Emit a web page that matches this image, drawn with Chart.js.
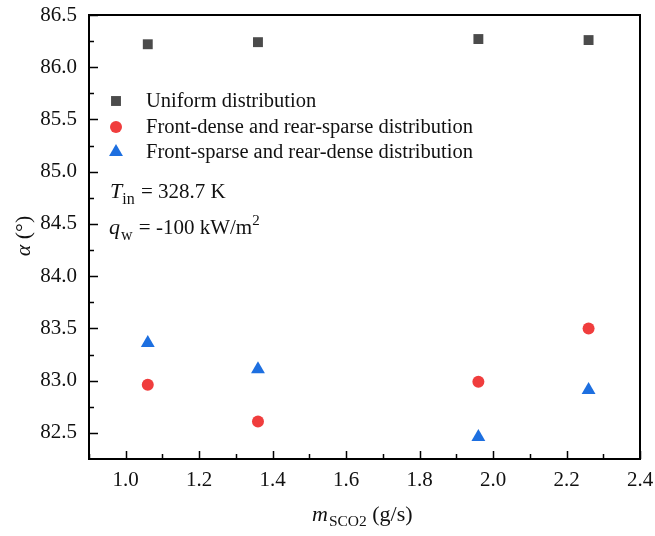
<!DOCTYPE html>
<html>
<head>
<meta charset="utf-8">
<title>Sudut alpha terhadap laju massa SCO2</title>
<script src="https://cdn.jsdelivr.net/npm/chart.js@4.4.1/dist/chart.umd.min.js"></script>
<style>
  html, body { margin: 0; padding: 0; background: #fff; }
  #wadah { width: 655px; height: 536px; }
</style>
</head>
<body>
<div id="wadah"><canvas id="grafik" width="655" height="536"></canvas></div>
<script>
// Data dibaca dari gambar asli
const lajuMassa = [1.06, 1.36, 1.96, 2.26];
const sudutSeragam = [86.22, 86.24, 86.27, 86.26];
const sudutDepanRapat = [82.96, 82.61, 82.99, 83.50];
const sudutDepanJarang = [83.36, 83.11, 82.46, 82.91];
const namaSeri = [
  'Uniform distribution',
  'Front-dense and rear-sparse distribution',
  'Front-sparse and rear-dense distribution'
];
const labelTickX = [1.0, 1.2, 1.4, 1.6, 1.8, 2.0, 2.2, 2.4];
const labelTickY = [82.5, 83.0, 83.5, 84.0, 84.5, 85.0, 85.5, 86.0, 86.5];

const HURUF = "'Liberation Serif', 'Times New Roman', serif";
Chart.defaults.font.family = HURUF;
const warnaSeri = ['#4b4b4b', '#f03d3d', '#1d6fe0'];
const gayaTitik = ['rect', 'circle', 'triangle'];
const jariTitik = [7, 6, 8];

function jadikanTitik(nilaiY) {
  return lajuMassa.map((x, i) => ({ x: x, y: nilaiY[i] }));
}

// gambar penanda legenda secara manual
function gambarPenanda(ctx, gaya, x, y, r, warna) {
  ctx.fillStyle = warna;
  ctx.beginPath();
  if (gaya === 'rect') {
    const s = r * Math.SQRT1_2;
    ctx.rect(x - s, y - s, 2 * s, 2 * s);
  } else if (gaya === 'circle') {
    ctx.arc(x, y, r, 0, Math.PI * 2);
  } else {
    ctx.moveTo(x, y - r);
    ctx.lineTo(x + r * Math.sin(Math.PI / 3), y + r * 0.5);
    ctx.lineTo(x - r * Math.sin(Math.PI / 3), y + r * 0.5);
    ctx.closePath();
  }
  ctx.fill();
}

// tulis potongan teks berurutan (biasa, miring, subskrip, superskrip)
function tulisPotongan(ctx, potongan, x, y) {
  let posX = x;
  potongan.forEach(p => {
    posX += p.jarak || 0;
    ctx.font = (p.miring ? 'italic ' : '') + p.ukuran + 'px ' + HURUF;
    ctx.fillText(p.teks, posX, y + (p.geser || 0));
    posX += ctx.measureText(p.teks).width;
  });
  return posX - x;
}

function lebarPotongan(ctx, potongan) {
  let total = 0;
  potongan.forEach(p => {
    ctx.font = (p.miring ? 'italic ' : '') + p.ukuran + 'px ' + HURUF;
    total += ctx.measureText(p.teks).width + (p.jarak || 0);
  });
  return total;
}

// buang padding tambahan dari label supaya area plot pas
function nolkanPadding(skala) {
  skala.paddingLeft = 0;
  skala.paddingRight = 0;
  skala.paddingTop = 0;
  skala.paddingBottom = 0;
}

const pluginBingkai = {
  id: 'bingkai',
  afterDraw(chart) {
    const ctx = chart.ctx;
    const area = chart.chartArea;
    const sx = chart.scales.x;
    const sy = chart.scales.y;
    ctx.save();

    // bingkai
    ctx.strokeStyle = '#000';
    ctx.lineWidth = 2;
    ctx.strokeRect(area.left, area.top, area.right - area.left, area.bottom - area.top);

    // tick ke dalam: mayor dan minor
    ctx.lineWidth = 1.5;
    ctx.beginPath();
    for (let v = 0.9; v <= 2.4001; v += 0.1) {
      const px = Math.round(sx.getPixelForValue(v)) + 0.5;
      const mayor = labelTickX.some(t => Math.abs(t - v) < 1e-6);
      const pj = mayor ? 8 : 5;
      ctx.moveTo(px, area.bottom);
      ctx.lineTo(px, area.bottom - pj);
    }
    for (let v = 82.5; v <= 86.5001; v += 0.25) {
      const py = Math.round(sy.getPixelForValue(v)) + 0.5;
      const mayor = labelTickY.some(t => Math.abs(t - v) < 1e-6);
      const pj = mayor ? 9 : 5;
      ctx.moveTo(area.left, py);
      ctx.lineTo(area.left + pj, py);
    }
    ctx.stroke();

    // legenda
    ctx.textBaseline = 'middle';
    ctx.textAlign = 'left';
    const barisY = [101, 127, 152];
    namaSeri.forEach((nama, i) => {
      gambarPenanda(ctx, gayaTitik[i], 116, barisY[i], jariTitik[i], warnaSeri[i]);
      ctx.fillStyle = '#111';
      ctx.font = '20.5px ' + HURUF;
      ctx.fillText(nama, 146, barisY[i] + 1);
    });

    // keterangan kondisi
    ctx.textBaseline = 'alphabetic';
    ctx.fillStyle = '#111';
    tulisPotongan(ctx, [
      { teks: 'T', ukuran: 22, miring: true },
      { teks: 'in', ukuran: 16, geser: 6 },
      { teks: ' = 328.7 K', ukuran: 21, jarak: 1 }
    ], 110, 198);
    tulisPotongan(ctx, [
      { teks: 'q', ukuran: 22, miring: true },
      { teks: 'w', ukuran: 16, geser: 6, jarak: 1 },
      { teks: ' = -100 kW/m', ukuran: 21, jarak: 1 },
      { teks: '2', ukuran: 15, geser: -9 }
    ], 109, 234);

    // judul sumbu x
    const judulX = [
      { teks: 'm', ukuran: 22, miring: true },
      { teks: 'SCO2', ukuran: 15.5, geser: 5, jarak: 1 },
      { teks: ' (g/s)', ukuran: 22 }
    ];
    tulisPotongan(ctx, judulX, 312, 521);

    // judul sumbu y (diputar)
    const judulY = [
      { teks: 'α', ukuran: 22, miring: true },
      { teks: ' (°)', ukuran: 22 }
    ];
    ctx.translate(30, 236);
    ctx.rotate(-Math.PI / 2);
    const lebarY = lebarPotongan(ctx, judulY);
    tulisPotongan(ctx, judulY, -lebarY / 2, 0);

    ctx.restore();
  }
};

const latarPutih = {
  id: 'latarPutih',
  beforeDraw(chart) {
    const ctx = chart.ctx;
    ctx.save();
    ctx.fillStyle = '#fff';
    ctx.fillRect(0, 0, chart.width, chart.height);
    ctx.restore();
  }
};

const semuaSudut = [sudutSeragam, sudutDepanRapat, sudutDepanJarang];

new Chart(document.getElementById('grafik').getContext('2d'), {
  type: 'scatter',
  data: {
    datasets: semuaSudut.map((nilai, i) => ({
      label: namaSeri[i],
      data: jadikanTitik(nilai),
      pointStyle: gayaTitik[i],
      pointRadius: jariTitik[i],
      pointHoverRadius: jariTitik[i],
      backgroundColor: warnaSeri[i],
      borderColor: warnaSeri[i],
      borderWidth: 0
    }))
  },
  options: {
    responsive: false,
    animation: false,
    layout: { padding: { left: 0, right: 15, top: 15, bottom: 0 } },
    plugins: {
      legend: { display: false },
      tooltip: { enabled: false }
    },
    scales: {
      x: {
        type: 'linear',
        min: 0.9,
        max: 2.4,
        border: { display: false },
        grid: { display: false, drawTicks: false },
        afterBuildTicks: (skala) => { skala.ticks = labelTickX.map(v => ({ value: v })); },
        afterFit: (skala) => { skala.height = 77; nolkanPadding(skala); },
        ticks: {
          padding: 9,
          color: '#111',
          font: { family: HURUF, size: 21 },
          maxRotation: 0,
          callback: (v) => Number(v).toFixed(1)
        }
      },
      y: {
        type: 'linear',
        min: 82.25,
        max: 86.5,
        border: { display: false },
        grid: { display: false, drawTicks: false },
        afterBuildTicks: (skala) => { skala.ticks = labelTickY.map(v => ({ value: v })); },
        afterFit: (skala) => { skala.width = 89; nolkanPadding(skala); },
        ticks: {
          padding: 12,
          color: '#111',
          font: { family: HURUF, size: 21 },
          callback: (v) => Number(v).toFixed(1)
        }
      }
    }
  },
  plugins: [latarPutih, pluginBingkai]
});
</script>
</body>
</html>
